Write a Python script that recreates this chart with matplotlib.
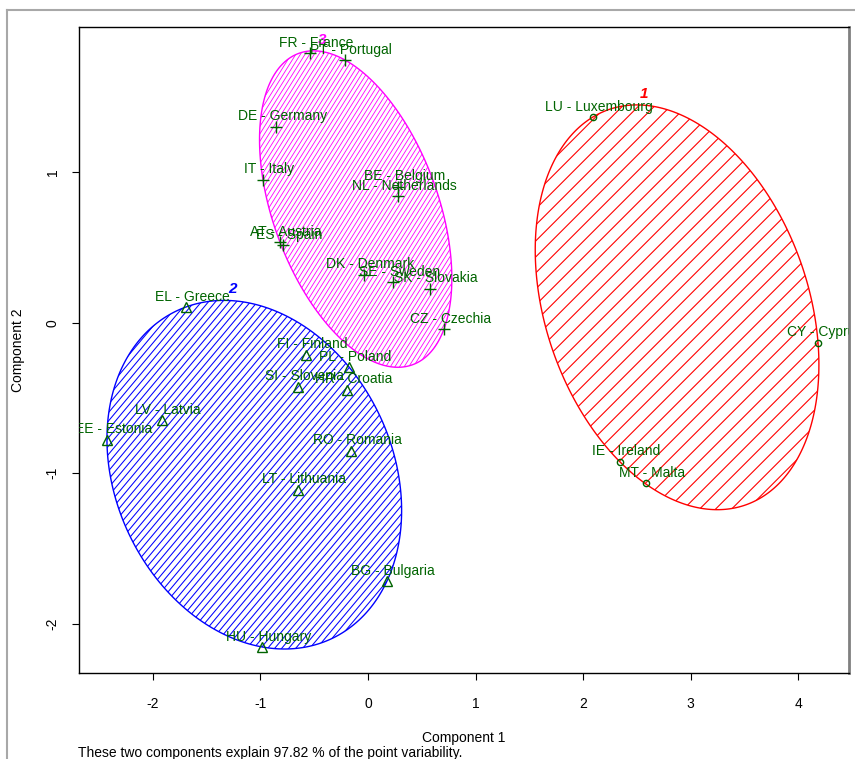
import numpy as np
import matplotlib
matplotlib.use("Agg")
import matplotlib.pyplot as plt
from matplotlib.patches import Polygon
from matplotlib.lines import Line2D
from matplotlib.collections import LineCollection

plt.rcParams['font.family'] = ['Liberation Sans', 'DejaVu Sans']
plt.rcParams['axes.unicode_minus'] = False

# cluster 1 (red, circles)
c1_labels = ["LU - Luxembourg", "CY - Cyprus", "IE - Ireland", "MT - Malta"]
c1_x = [2.093, 4.186, 2.344, 2.586]
c1_y = [1.365, -0.134, -0.924, -1.064]

# cluster 2 (blue, triangles)
c2_labels = ["EL - Greece", "FI - Finland", "PL - Poland", "SI - Slovenia",
             "HR - Croatia", "LV - Latvia", "EE - Estonia", "RO - Romania",
             "LT - Lithuania", "BG - Bulgaria", "HU - Hungary"]
c2_x = [-1.693, -0.577, -0.177, -0.651, -0.195, -1.916, -2.428, -0.158,
        -0.651, 0.177, -0.986]
c2_y = [0.104, -0.214, -0.294, -0.426, -0.446, -0.646, -0.778, -0.851,
        -1.110, -1.714, -2.152]

# cluster 3 (magenta, plus)
c3_labels = ["FR - France", "PT - Portugal", "DE - Germany", "IT - Italy",
             "BE - Belgium", "NL - Netherlands", "AT - Austria", "ES - Spain",
             "DK - Denmark", "SE - Sweden", "SK - Slovakia", "CZ - Czechia"]
c3_x = [-0.540, -0.214, -0.856, -0.977, 0.279, 0.279, -0.819, -0.791,
        -0.037, 0.233, 0.577, 0.707]
c3_y = [1.790, 1.743, 1.299, 0.948, 0.901, 0.841, 0.535, 0.515,
        0.317, 0.270, 0.224, -0.042]

# name, x, y, labels, marker, size, colour, hatch angle, hatch spacing (px, horizontal), hatch lw
clusters = [
    ("1", c1_x, c1_y, c1_labels, 'o', 4.5, '#FF0000', 45, 16.0, 0.8),
    ("2", c2_x, c2_y, c2_labels, '^', 7, '#0000FF', 50, 7.0, 0.75),
    ("3", c3_x, c3_y, c3_labels, '+', 9, '#FF00FF', 58, 4.6, 0.6),
]


def mvee(P, tol=1e-8, maxit=50000):
    # smallest ellipse containing all points (Khachiyan)
    N, d = P.shape
    Q = np.vstack([P.T, np.ones(N)])
    u = np.ones(N) / N
    for _ in range(maxit):
        X = Q @ np.diag(u) @ Q.T
        M = np.einsum('ij,ji->i', Q.T @ np.linalg.inv(X), Q)
        j = np.argmax(M)
        step = (M[j] - d - 1) / ((d + 1) * (M[j] - 1))
        new_u = (1 - step) * u
        new_u[j] += step
        err = np.linalg.norm(new_u - u)
        u = new_u
        if err < tol:
            break
    c = P.T @ u
    A = np.linalg.inv(P.T @ np.diag(u) @ P - np.outer(c, c)) / d
    return c, A


fig = plt.figure(figsize=(8.55, 7.59), dpi=100)
ax = fig.add_axes([79/855, 1 - 673/759, 770/855, 646/759])
ax.set_xlim(-2.688, 4.474)
ax.set_ylim(-2.325, 1.962)

t = np.linspace(0, 2*np.pi, 400)
for name, xs, ys, labs, mk, ms, col, ang, hsp, hlw in clusters:
    P = np.column_stack([xs, ys])
    c, A = mvee(P)
    w, V = np.linalg.eigh(A)
    circ = np.vstack([np.cos(t), np.sin(t)])
    ell = (c[:, None] + V @ np.diag(1/np.sqrt(w)) @ circ).T
    patch = Polygon(ell, closed=True, facecolor='none', edgecolor=col, lw=1, zorder=2)
    ax.add_patch(patch)

    # shading lines, worked out in pixels then mapped back to data
    pix = ax.transData.transform(ell)
    cen = pix.mean(axis=0)
    R = np.max(np.linalg.norm(pix - cen, axis=1)) + 5
    th = np.radians(ang)
    dvec = np.array([np.cos(th), np.sin(th)])
    nvec = np.array([-np.sin(th), np.cos(th)])
    step = hsp * np.sin(th)
    segs = []
    for o in np.arange(-R, R, step):
        base = cen + o * nvec
        seg = np.array([base - R * dvec, base + R * dvec])
        segs.append(ax.transData.inverted().transform(seg))
    lc = LineCollection(segs, colors=col, linewidths=hlw, zorder=1)
    ax.add_collection(lc)
    lc.set_clip_path(patch)

    top = ell[np.argmax(ell[:, 1])]
    ax.annotate(name, top, xytext=(6, 8), textcoords='offset points',
                ha='center', va='center', color=col, fontsize=11,
                fontweight='bold', fontstyle='italic')
    if mk == '+':
        ax.plot(xs, ys, ls='none', marker=mk, ms=ms, mew=1, color='#006400', zorder=3)
    else:
        ax.plot(xs, ys, ls='none', marker=mk, ms=ms, mew=1, mfc='none',
                mec='#006400', zorder=3)
    for x, y, s in zip(xs, ys, labs):
        ax.annotate(s, (x, y), xytext=(4.5, 7.5), textcoords='offset points',
                    ha='center', va='center', color='#006400', fontsize=10,
                    annotation_clip=False, clip_on=True, zorder=4)

ax.set_xticks([-2, -1, 0, 1, 2, 3, 4])
ax.set_yticks([-2, -1, 0, 1])
ax.tick_params(length=5, width=0.8, labelsize=10, color='black')
ax.tick_params(axis='x', pad=12)
ax.tick_params(axis='y', pad=9)
for lab in ax.get_yticklabels():
    lab.set_rotation(90)
    lab.set_va('center')
for sp in ax.spines.values():
    sp.set_linewidth(1)
ax.spines['right'].set_color('#808080')
ax.spines['right'].set_linewidth(2)

fig.text(464/855, 1 - 738/759, "Component 1", ha='center', va='center', fontsize=10)
fig.text(18/855, 1 - 350/759, "Component 2", ha='center', va='center',
         rotation=90, fontsize=10)
fig.text(78/855, 1 - 757/759, "These two components explain 97.82 % of the point variability.",
         ha='left', va='baseline', fontsize=10)

fig.add_artist(Line2D([7/855, 7/855], [0, 1 - 10/759], transform=fig.transFigure,
                      color='#a8a8a8', lw=1.5))
fig.add_artist(Line2D([7/855, 1], [1 - 10/759, 1 - 10/759], transform=fig.transFigure,
                      color='#a8a8a8', lw=1.5))

fig.savefig("out.png", dpi=100)
